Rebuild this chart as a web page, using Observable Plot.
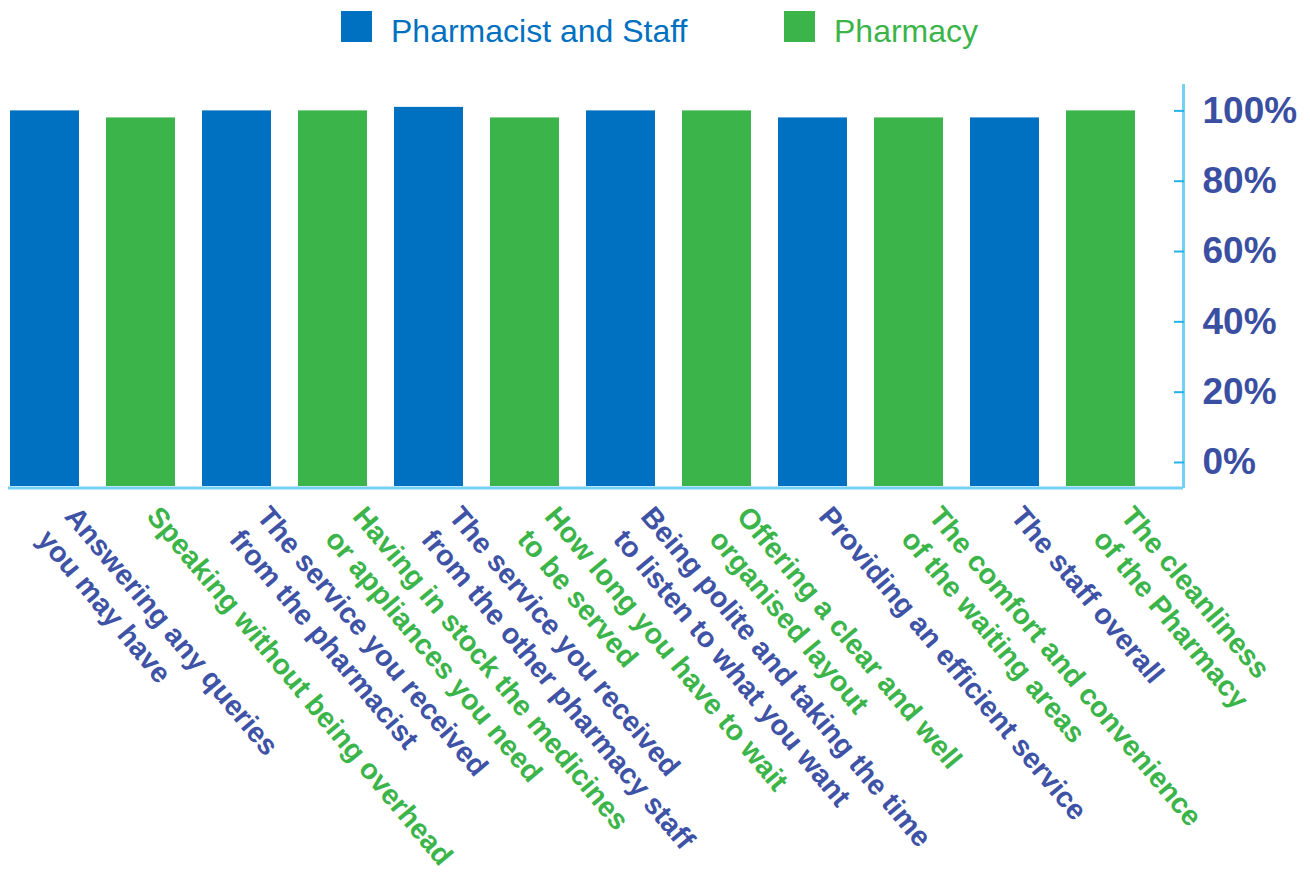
<!DOCTYPE html>
<html>
<head>
<meta charset="utf-8">
<script src="https://cdn.jsdelivr.net/npm/d3@7"></script>
<script src="https://cdn.jsdelivr.net/npm/@observablehq/plot@0.6"></script>
<style>
  body { margin: 0; background: #fff; font-family: "Liberation Sans", Arial, sans-serif; }
  #legend { position: relative; width: 1310px; height: 60px; }
  .sw { position: absolute; top: 11px; width: 31px; height: 31px; }
  .lt { position: absolute; top: 15px; font-size: 32px; line-height: 32px; white-space: nowrap; }
  #chart svg { display: block; }
</style>
</head>
<body>
<div id="legend"></div>
<div id="chart"></div>
<script>
// ---- data ----
const categories = [
  "Answering any queries\nyou may have",
  "Speaking without being overhead",
  "The service you received\nfrom the pharmacist",
  "Having in stock the medicines\nor appliances you need",
  "The service you received\nfrom the other pharmacy staff",
  "How long you have to wait\nto be served",
  "Being polite and taking the time\nto listen to what you want",
  "Offering a clear and well\norganised layout",
  "Providing an efficient service",
  "The comfort and convenience\nof the waiting areas",
  "The staff overall",
  "The cleanliness\nof the Pharmacy"
];
const seriesNames = ["Pharmacist and Staff", "Pharmacy"];
const categorySeries = [
  "Pharmacist and Staff", "Pharmacy", "Pharmacist and Staff", "Pharmacy",
  "Pharmacist and Staff", "Pharmacy", "Pharmacist and Staff", "Pharmacy",
  "Pharmacist and Staff", "Pharmacy", "Pharmacist and Staff", "Pharmacy"
];
const values = [1.00, 0.98, 1.00, 1.00, 1.01, 0.98, 1.00, 1.00, 0.98, 0.98, 0.98, 1.00];
const yTicks = [0, 0.2, 0.4, 0.6, 0.8, 1.0];
const yTickLabels = ["0%", "20%", "40%", "60%", "80%", "100%"];

// ---- styles ----
const barColors = ["#0070C0", "#3BB44A"];
const labelColors = ["#3E52A6", "#3BB44A"];
const axisLine = "#74D0F4";
const tickColor = "#22B2EA";
const yTextColor = "#3A4FA2";
const yFloor = -0.0683, yCeil = 1.0722;

const data = categories.map((c, i) => ({label: c, series: categorySeries[i], value: values[i], lines: c.split("\n").length}));

// ---- legend ----
const legend = document.getElementById("legend");
const legendPos = [[341, 391], [784, 834]];
seriesNames.forEach((s, i) => {
  const sw = document.createElement("div");
  sw.className = "sw"; sw.style.left = legendPos[i][0] + "px"; sw.style.background = barColors[i];
  const t = document.createElement("div");
  t.className = "lt"; t.style.left = legendPos[i][1] + "px"; t.style.color = barColors[i];
  t.textContent = s;
  legend.append(sw, t);
});

// ---- label marks (grouped by series and number of lines) ----
const labelMarks = [];
seriesNames.forEach((s, si) => {
  [1, 2].forEach(n => {
    labelMarks.push(Plot.text(data.filter(d => d.series === s && d.lines === n), {
      x: "label", frameAnchor: "bottom", text: "label",
      rotate: 50, textAnchor: "start", lineAnchor: "top", lineHeight: 1.25,
      fontSize: 28.7, fontWeight: "bold", fill: labelColors[si],
      dx: n === 1 ? 24 : 38, dy: 14
    }));
  });
});

const chart = Plot.plot({
  width: 1310, height: 814,
  marginTop: 25, marginBottom: 388, marginLeft: 8, marginRight: 127,
  style: {fontFamily: "Liberation Sans, Arial, sans-serif", background: "white", overflow: "visible"},
  x: {domain: categories, paddingInner: 0.28, paddingOuter: 0.25, align: 0.04, axis: null},
  y: {domain: [yFloor, yCeil], axis: null},
  color: {domain: seriesNames, range: barColors},
  marks: [
    Plot.barY(data, {x: "label", y1: yFloor, y2: "value", fill: "series"}),
    Plot.ruleY([yFloor], {stroke: axisLine, strokeWidth: 3, dy: 1.5}),
    Plot.frame({anchor: "right", stroke: axisLine, strokeWidth: 3}),
    Plot.axisY(yTicks, {anchor: "right", tickSize: 10, dx: -10, stroke: tickColor, strokeWidth: 2,
      tickFormat: () => "", label: null}),
    Plot.axisY(yTicks, {anchor: "right", tickSize: 0, tickPadding: 19, label: null,
      tickFormat: d => yTickLabels[yTicks.indexOf(d)],
      fill: yTextColor, fontSize: 37, fontWeight: "bold"}),
    ...labelMarks
  ]
});
document.getElementById("chart").append(chart);
</script>
</body>
</html>
